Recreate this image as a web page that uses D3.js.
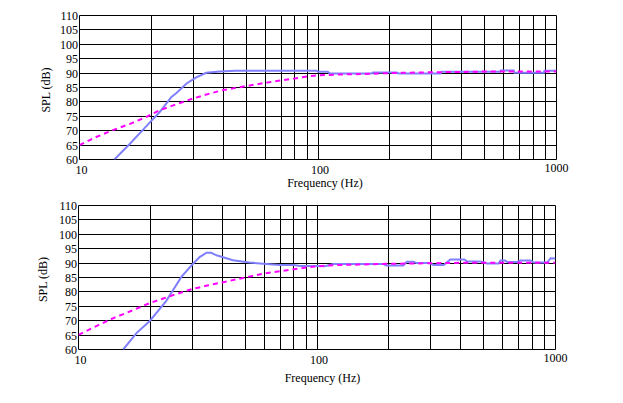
<!DOCTYPE html>
<html>
<head>
<meta charset="utf-8">
<script src="https://cdn.jsdelivr.net/npm/d3@7"></script>
<style>
  body { margin: 0; background: #fff; }
  text { font-family: "Liberation Serif", "Times New Roman", serif; font-size: 12px; fill: #000; }
</style>
</head>
<body>
<svg id="chart" width="623" height="403"></svg>
<script>
// tick values
var xTicks = [10, 100, 1000];
var xGrid = [10, 20, 30, 40, 50, 60, 70, 80, 90, 100, 200, 300, 400, 500, 600, 700, 800, 900, 1000];
var yTicks = [60, 65, 70, 75, 80, 85, 90, 95, 100, 105, 110];

// upper plot: measured response (solid) and target (dashed)
var topFreq = [14.0, 16.2, 18.4, 20.0, 21.7, 24.3, 25.5, 28.1, 30.9, 34.0, 38.7, 45, 60, 98.7, 100, 110, 112, 168, 170, 214, 218, 326, 330, 580, 584, 662, 666, 885, 890, 914, 1000];
var topSpl  = [60.0, 65.3, 70.2, 73.4, 76.5, 81.7, 83.1, 86.4, 88.5, 90.1, 90.55, 90.8, 90.85, 90.85, 90.45, 90.45, 89.9, 89.9, 90.2, 90.2, 89.9, 89.9, 90.45, 90.45, 90.9, 90.9, 90.1, 90.1, 90.8, 90.8, 90.8];
var topTargetFreq = [10, 11.75, 13.8, 16.2, 19.1, 21.7, 25.5, 30, 35.2, 40, 50, 60, 70, 80, 90.5, 100, 120, 150, 200, 300, 400, 500, 1000];
var topTargetSpl  = [65.0, 67.8, 70.2, 72.3, 74.8, 77.1, 79.2, 81.2, 82.9, 84.1, 85.5, 86.6, 87.5, 88.1, 88.9, 89.2, 89.5, 89.65, 90.0, 90.3, 90.4, 90.55, 90.55];

// lower plot
var botFreq = [15.4, 17.5, 19.9, 23.3, 27.0, 30.0, 32.2, 34.4, 36.0, 37.9, 44.4, 52, 61.4, 70, 80, 85, 100, 108, 117, 190, 195, 230, 238, 254, 262, 298, 308, 340, 362, 415, 426, 480, 500, 516, 578, 588, 615, 627, 647, 690, 713, 785, 811, 923, 953, 1000];
var botSpl  = [60.0, 65.7, 69.9, 76.8, 85.2, 89.5, 92.1, 93.6, 93.6, 92.7, 91.0, 90.2, 89.7, 89.3, 89.3, 89.0, 89.0, 88.9, 89.65, 89.65, 89.2, 89.2, 90.45, 90.45, 90.0, 90.0, 89.3, 89.3, 91.25, 91.25, 90.55, 90.55, 90.3, 89.9, 89.9, 90.9, 90.9, 90.35, 90.35, 90.35, 90.9, 90.9, 90.2, 90.2, 91.7, 91.6];
var botTargetFreq = [10, 12, 14, 16, 20, 25, 30, 35, 40, 50, 60, 70, 80, 100, 120, 150, 200, 300, 400, 600, 1000];
var botTargetSpl  = [65.1, 68.3, 70.9, 72.8, 76.2, 78.9, 81.0, 82.3, 83.3, 85.0, 86.4, 87.2, 87.9, 88.9, 89.3, 89.5, 89.75, 89.95, 90.1, 90.1, 90.1];

var svg = d3.select("#chart");

function drawPanel(cfg) {
    var x = d3.scaleLog().domain([10, 1000]).range([cfg.left, cfg.right]);
    var y = d3.scaleLinear().domain([60, 110]).range([cfg.bottom, cfg.top]);
    var g = svg.append("g");

    // grid
    g.selectAll("line.vx").data(xGrid).enter().append("line")
        .attr("x1", function (d) { return Math.floor(x(d)) + 0.5; })
        .attr("x2", function (d) { return Math.floor(x(d)) + 0.5; })
        .attr("y1", cfg.top).attr("y2", cfg.bottom)
        .attr("stroke", "#000").attr("stroke-width", 1);
    g.selectAll("line.hy").data(yTicks).enter().append("line")
        .attr("x1", cfg.left).attr("x2", cfg.right)
        .attr("y1", function (d) { return Math.floor(y(d)) + 0.5; })
        .attr("y2", function (d) { return Math.floor(y(d)) + 0.5; })
        .attr("stroke", "#000").attr("stroke-width", 1);

    // y tick labels
    g.selectAll("text.yt").data(yTicks).enter().append("text")
        .attr("x", cfg.left - 1.5)
        .attr("y", function (d) { return y(d) + 4.5; })
        .attr("text-anchor", "end")
        .text(function (d) { return d; });

    // x tick labels
    g.selectAll("text.xt").data(xTicks).enter().append("text")
        .attr("x", function (d, i) { return x(d) + (i < 2 ? 2 : 0); })
        .attr("y", function (d, i) { return cfg.bottom + (i < 2 ? 14.5 : 12.5); })
        .attr("text-anchor", "middle")
        .text(function (d) { return d; });

    g.append("text")
        .attr("x", cfg.titleX).attr("y", cfg.titleY)
        .attr("text-anchor", "middle")
        .text("Frequency (Hz)");
    g.append("text")
        .attr("transform", "translate(" + cfg.ylabX + "," + cfg.ylabY + ") rotate(-90)")
        .attr("text-anchor", "middle")
        .text("SPL (dB)");

    var clipId = "clip" + cfg.id;
    svg.append("clipPath").attr("id", clipId).append("rect")
        .attr("x", cfg.left).attr("y", cfg.top - 3)
        .attr("width", cfg.right - cfg.left).attr("height", cfg.bottom - cfg.top + 3);

    var line = d3.line()
        .x(function (d) { return x(d[0]); })
        .y(function (d) { return y(d[1]); });

    g.append("path")
        .datum(d3.zip(cfg.freq, cfg.spl))
        .attr("clip-path", "url(#" + clipId + ")")
        .attr("fill", "none")
        .attr("stroke", "#8080ff")
        .attr("stroke-width", 2)
        .attr("d", line);

    g.append("path")
        .datum(d3.zip(cfg.tFreq, cfg.tSpl))
        .attr("clip-path", "url(#" + clipId + ")")
        .attr("fill", "none")
        .attr("stroke", "#ff00ff")
        .attr("stroke-width", 2)
        .attr("stroke-dasharray", "5,4")
        .attr("d", line);
}

drawPanel({
    id: 1, left: 79.5, right: 556.5, top: 15.5, bottom: 159.5,
    titleX: 325, titleY: 187, ylabX: 50, ylabY: 90,
    freq: topFreq, spl: topSpl, tFreq: topTargetFreq, tSpl: topTargetSpl
});
drawPanel({
    id: 2, left: 78.5, right: 555.5, top: 205.5, bottom: 349.5,
    titleX: 322.5, titleY: 382, ylabX: 46.5, ylabY: 279.5,
    freq: botFreq, spl: botSpl, tFreq: botTargetFreq, tSpl: botTargetSpl
});
</script>
</body>
</html>
